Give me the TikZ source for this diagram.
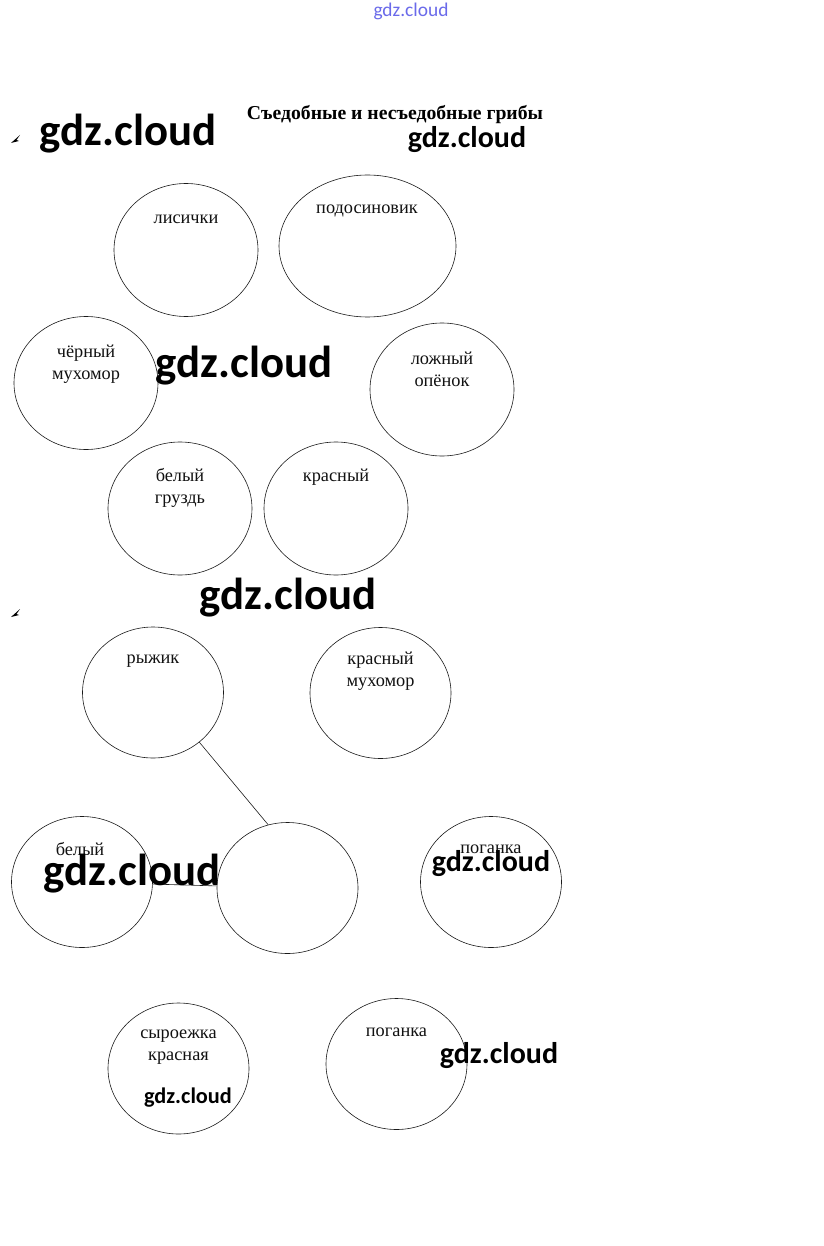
\documentclass[tikz,border=0pt]{standalone}
\usepackage{fontspec}
\setmainfont{Liberation Serif}
\newfontfamily\wmfont{Carlito}
\usepackage{tikz}
\usetikzlibrary{shapes.geometric, positioning}
\definecolor{gribyline}{HTML}{1A1A1A}
\definecolor{gribytext}{HTML}{111111}
\definecolor{gribyblue}{HTML}{6A6AEA}
\tikzset{
    grib/.style={draw=gribyline, ellipse, line width=0.6pt, inner sep=0pt, minimum width=144pt, minimum height=133pt},
    gribsmall/.style={grib, minimum width=141pt, minimum height=131pt},
    gribtext/.style={text=gribytext, font=\fontsize{18.3}{22}\selectfont, align=center, inner sep=0pt},
    wmbig/.style={font=\wmfont\bfseries\fontsize{44.8}{50}\selectfont, inner sep=0pt},
    wmmid/.style={font=\wmfont\bfseries\fontsize{30}{34}\selectfont, inner sep=0pt},
    wmsmall/.style={font=\wmfont\bfseries\fontsize{22.3}{26}\selectfont, inner sep=0pt},
    link/.style={draw=gribyline, line width=0.6pt},
}

\begin{document}
\begin{tikzpicture}[x=1pt, y=-1pt]
    \fill[white] (0,0) rectangle (823,1246);
    \useasboundingbox (0,0) rectangle (823,1246);

    \node[font=\bfseries\fontsize{19.7}{22}\selectfont, inner sep=0pt] (title) at (395,115) {Съедобные и несъедобные грибы};
    \fill (11,143) -- (20,135) -- (16.5,140) -- (19,141) -- cycle;
    \fill (11,617) -- (20,609) -- (16.5,614) -- (19,615) -- cycle;

    \node[grib] (lisichki) at (186,250) {};
    \node[grib, minimum width=177pt, minimum height=142pt] (podosinovik) at (367.5,246) {};
    \node[grib] (chernyj) at (86,383) {};
    \node[grib] (opyonok) at (442,389.5) {};
    \node[grib] (gruzd) at (180,508.5) {};
    \node[grib] (krasnyj) at (336,508.5) {};

    \node[gribtext] (lisichki-t) at (186,219) {лисички};
    \node[gribtext] (podosinovik-t) at (367,211) {подосиновик};
    \node[gribtext] (chernyj-t) at (86,364) {чёрный\\мухомор};
    \node[gribtext] (opyonok-t) at (442,369) {ложный\\опёнок};
    \node[gribtext] (gruzd-t) at (180,488) {белый\\груздь};
    \node[gribtext] (krasnyj-t) at (336,477) {красный};

    \node[gribsmall] (ryzhik) at (153,692.5) {};
    \node[gribsmall] (krmuhomor) at (380.5,693) {};
    \node[gribsmall] (belyj) at (82,882) {};
    \node[gribsmall] (pusto) at (287.5,888) {};
    \node[gribsmall] (poganka) at (491,882) {};
    \node[gribsmall] (syroezhka) at (178.5,1068.5) {};
    \node[gribsmall] (poganka2) at (396.5,1064) {};

    \node[gribtext] (ryzhik-t) at (153,661) {рыжик};
    \node[gribtext] (krmuhomor-t) at (380.5,671) {красный\\мухомор};
    \node[gribtext] (belyj-t) at (80,849) {белый};
    \node[gribtext] (poganka-t) at (491,849) {поганка};
    \node[gribtext] (syroezhka-t) at (178.5,1047) {сыроежка\\красная};
    \node[gribtext] (poganka2-t) at (396.5,1032) {поганка};

    \draw[link] (ryzhik.-47) -- (pusto.107);
    \draw[link] (belyj) -- (pusto);

    \node[font=\wmfont\fontsize{19.4}{22}\selectfont, text=gribyblue, inner sep=0pt] (wm0) at (411,11) {gdz.cloud};
    \node[wmbig] (wm1) at (128,134) {gdz.cloud};
    \node[wmmid] (wm2) at (467,140) {gdz.cloud};
    \node[wmbig] (wm3) at (244,366) {gdz.cloud};
    \node[wmbig] (wm4) at (288,598) {gdz.cloud};
    \node[wmbig] (wm5) at (132,874) {gdz.cloud};
    \node[wmmid] (wm6) at (491,864) {gdz.cloud};
    \node[wmmid] (wm7) at (499,1056) {gdz.cloud};
    \node[wmsmall] (wm8) at (188,1098) {gdz.cloud};
\end{tikzpicture}
\end{document}
